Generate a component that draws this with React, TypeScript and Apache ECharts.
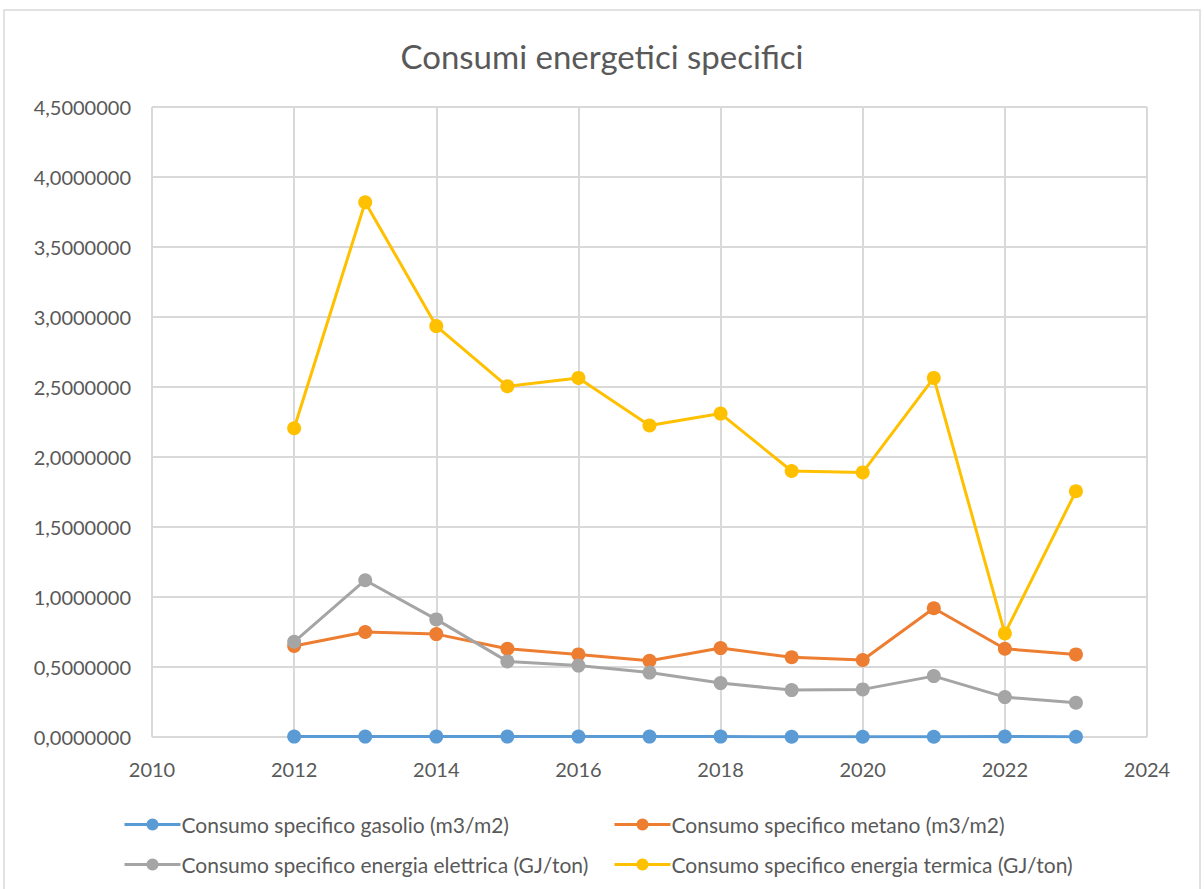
import React, { useEffect, useRef } from "react";
import * as echarts from "echarts";

const years = [2012, 2013, 2014, 2015, 2016, 2017, 2018, 2019, 2020, 2021, 2022, 2023];
const gasolio = [0.003, 0.003, 0.003, 0.003, 0.003, 0.003, 0.003, 0.002, 0.002, 0.002, 0.003, 0.002];
const metano = [0.65, 0.75, 0.735, 0.63, 0.59, 0.545, 0.635, 0.57, 0.55, 0.92, 0.63, 0.59];
const elettrica = [0.68, 1.12, 0.84, 0.54, 0.51, 0.46, 0.385, 0.335, 0.34, 0.435, 0.285, 0.245];
const termica = [2.205, 3.82, 2.935, 2.505, 2.565, 2.225, 2.31, 1.9, 1.89, 2.565, 0.74, 1.755];

const seriesNames = [
  "Consumo specifico gasolio (m3/m2)",
  "Consumo specifico metano (m3/m2)",
  "Consumo specifico energia elettrica (GJ/ton)",
  "Consumo specifico energia termica (GJ/ton)",
];
const seriesColors = ["#5b9bd5", "#ed7d31", "#a5a5a5", "#ffc000"];
const seriesValues = [gasolio, metano, elettrica, termica];

const FONT = "Lato";
const TEXT = "#595959";

export default function App() {
  const ref = useRef<HTMLDivElement>(null);
  useEffect(() => {
    if (!ref.current) return;
    const chart = echarts.init(ref.current, undefined, { renderer: "svg" });
    const legendPos = [
      { left: 118, top: 809 },
      { left: 608, top: 809 },
      { left: 118, top: 849 },
      { left: 608, top: 849 },
    ];
    chart.setOption({
      animation: false,
      backgroundColor: "#ffffff",
      title: {
        text: "Consumi energetici specifici",
        left: "center",
        top: 34,
        textStyle: { fontFamily: FONT, fontSize: 33, fontWeight: "normal", color: TEXT },
      },
      graphic: [
        {
          type: "rect",
          shape: { x: 4, y: 10, width: 1196, height: 880 },
          style: { fill: "none", stroke: "#d9d9d9", lineWidth: 1.5 },
          silent: true,
        },
      ],
      legend: seriesNames.map((n, i) => ({
        data: [n],
        left: legendPos[i].left,
        top: legendPos[i].top,
        itemWidth: 56,
        itemHeight: 15,
        itemGap: 0,
        lineStyle: { width: 3 },
        textStyle: { fontFamily: FONT, fontSize: 21, color: TEXT, padding: [0, 0, 0, -4] },
      })),
      grid: { left: 152, right: 57, top: 107, bottom: 152 },
      xAxis: {
        type: "value",
        min: 2010,
        max: 2024,
        interval: 2,
        axisLine: { show: false },
        axisTick: { show: false },
        splitLine: { show: true, lineStyle: { color: "#d9d9d9", width: 2 } },
        axisLabel: {
          fontFamily: FONT,
          fontSize: 20,
          color: TEXT,
          margin: 22,
          formatter: (v: number) => String(v),
        },
      },
      yAxis: {
        type: "value",
        min: 0,
        max: 4.5,
        interval: 0.5,
        axisLine: { show: false },
        axisTick: { show: false },
        splitLine: { show: true, lineStyle: { color: "#d9d9d9", width: 2 } },
        axisLabel: {
          fontFamily: FONT,
          fontSize: 20,
          color: TEXT,
          margin: 21,
          formatter: (v: number) => v.toFixed(7).replace(".", ","),
        },
      },
      series: seriesNames.map((n, i) => ({
        name: n,
        type: "line",
        data: years.map((y, j) => [y, seriesValues[i][j]]),
        symbol: "circle",
        symbolSize: 14,
        lineStyle: { color: seriesColors[i], width: 3 },
        itemStyle: { color: seriesColors[i] },
      })),
    });
    return () => chart.dispose();
  }, []);
  return (
    <div
      ref={ref}
      style={{ position: "absolute", left: 0, top: 0, width: 1204, height: 889 }}
    />
  );
}
